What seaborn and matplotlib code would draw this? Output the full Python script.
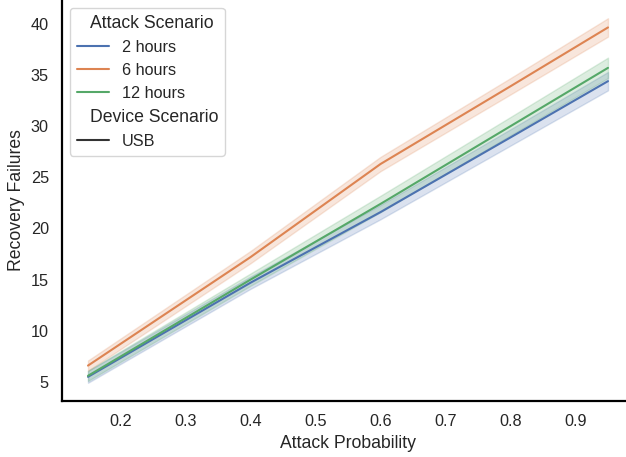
import numpy as np
import pandas as pd
import seaborn as sns
import matplotlib as mpl
import matplotlib.pyplot as plt

# values
attack_prob = [0.15, 0.4, 0.6, 0.8, 0.95]
scenarios = ["2 hours", "6 hours", "12 hours"]
device = "USB"

mean_2h = [5.5, 14.7, 21.6, 28.9, 34.4]
mean_6h = [6.6, 17.2, 26.3, 33.9, 39.65]
mean_12h = [5.6, 15.0, 22.4, 30.0, 35.7]

# half width of the shaded band (min/max of the runs)
spread_2h = [0.58, 0.6, 0.7, 0.8, 0.9]
spread_6h = [0.5, 0.6, 0.7, 0.8, 0.9]
spread_12h = [0.5, 0.6, 0.8, 0.9, 1.0]

means = [mean_2h, mean_6h, mean_12h]
spreads = [spread_2h, spread_6h, spread_12h]

rows = []
for name, m, s in zip(scenarios, means, spreads):
    for x, mu, w in zip(attack_prob, m, s):
        rows.append((x, mu - w, name, device))
        rows.append((x, mu + w, name, device))
df = pd.DataFrame(rows, columns=["Attack Probability", "Recovery Failures",
                                 "Attack Scenario", "Device Scenario"])

sns.set_theme(style="white", font_scale=1.06)
plt.rcParams['font.family'] = ['Liberation Sans', 'DejaVu Sans']
plt.rcParams['axes.edgecolor'] = 'black'
plt.rcParams['axes.linewidth'] = 1.6

fig = plt.figure(figsize=(6.26, 4.57), dpi=100)
ax = fig.add_axes([62 / 626, 56 / 457, 572 / 626, 401 / 457])

sns.lineplot(data=df, x="Attack Probability", y="Recovery Failures",
             hue="Attack Scenario", style="Device Scenario",
             errorbar=("pi", 100), ax=ax)
sns.despine()

# make the subtitle rows look like titles (no handle space, bigger text)
subtitles = ["Attack Scenario", "Device Scenario"]
leg = ax.get_legend()
title_size = plt.rcParams["legend.title_fontsize"]
for hpack in leg.findobj(mpl.offsetbox.HPacker):
    kids = hpack.get_children()
    if len(kids) != 2:
        continue
    draw_area, text_area = kids
    if not isinstance(text_area, mpl.offsetbox.TextArea):
        continue
    if text_area.get_text() in subtitles:
        draw_area.set_width(0)
        text_area._text.set_size(title_size)

fig.savefig("out.png", dpi=100)
